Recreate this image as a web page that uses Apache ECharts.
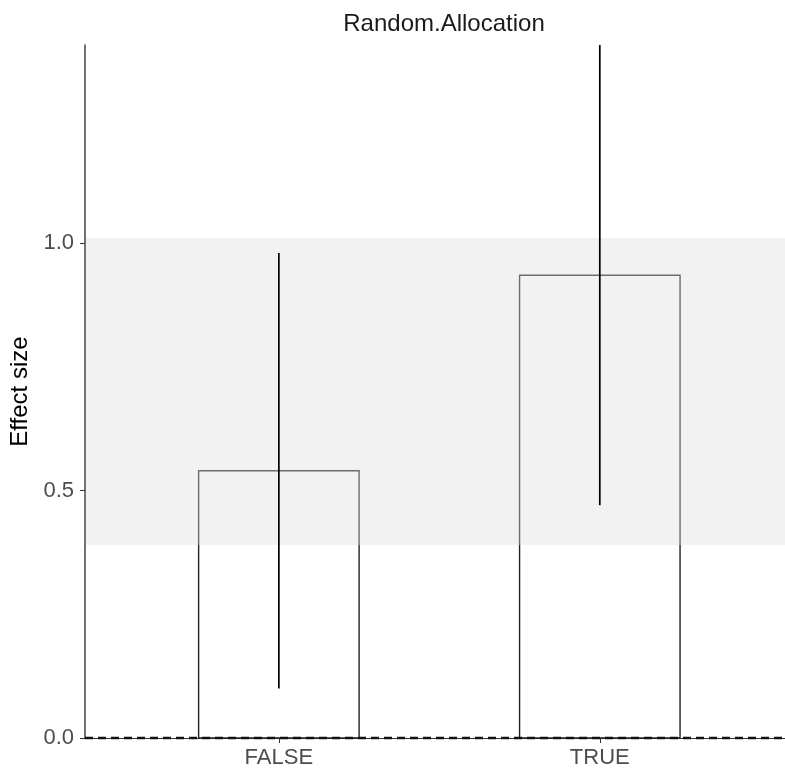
<!DOCTYPE html>
<html>
<head>
<meta charset="utf-8">
<script src="https://cdn.jsdelivr.net/npm/echarts@6/dist/echarts.min.js"></script>
<style>html,body{margin:0;padding:0;background:#fff}#c{width:785px;height:769px}</style>
</head>
<body>
<div id="c"></div>
<script>
var categories = ['FALSE', 'TRUE'];
var means = [0.54, 0.935];
var lower = [0.10, 0.47];
var upper = [0.98, 1.45];
var bandRange = [0.39, 1.01];
var yTicks = [0, 0.5, 1.0];
var yMax = 1.4;
var xMin = 0.396, xMax = 2.577;
var barHalfWidth = 0.25;

var chart = echarts.init(document.getElementById('c'), null, {renderer: 'canvas'});
var font = 'Liberation Sans, Arial, sans-serif';
var barData = categories.map(function (c, i) { return [i + 1, means[i]]; });
var errData = categories.map(function (c, i) { return [i + 1, lower[i], upper[i]]; });

var option = {
  backgroundColor: '#fff',
  animation: false,
  title: {
    text: 'Random.Allocation',
    left: 439, top: 7, textAlign: 'center',
    textStyle: {fontFamily: font, fontSize: 24, fontWeight: 'normal', color: '#1a1a1a'}
  },
  grid: {left: 85, top: 45, width: 700, height: 693},
  xAxis: {
    type: 'value', min: xMin, max: xMax,
    splitLine: {show: false},
    axisLine: {show: true, lineStyle: {color: '#333', width: 1.2}},
    axisTick: {show: true, customValues: [1, 2], length: 5, lineStyle: {color: '#333'}},
    axisLabel: {
      customValues: [1, 2], margin: 9,
      formatter: function (v) { return categories[Math.round(v) - 1]; },
      fontFamily: font, fontSize: 22, color: '#4d4d4d'
    }
  },
  yAxis: {
    type: 'value', min: 0, max: yMax,
    name: 'Effect size', nameLocation: 'middle', nameGap: 49,
    nameTextStyle: {fontFamily: font, fontSize: 24, color: '#000'},
    splitLine: {show: false},
    axisLine: {show: true, lineStyle: {color: '#444', width: 1.5}},
    axisTick: {show: true, customValues: yTicks, length: 5, lineStyle: {color: '#333'}},
    axisLabel: {
      customValues: yTicks, margin: 11,
      formatter: function (v) { return v.toFixed(1); },
      fontFamily: font, fontSize: 22, color: '#4d4d4d'
    }
  },
  series: [
    {
      type: 'custom', z: 2, data: barData,
      renderItem: function (params, api) {
        var x = api.value(0), y = api.value(1);
        var p0 = api.coord([x - barHalfWidth, 0]);
        var p1 = api.coord([x + barHalfWidth, y]);
        return {
          type: 'rect',
          shape: {x: p0[0], y: p1[1], width: p1[0] - p0[0], height: p0[1] - p1[1]},
          style: {fill: 'rgba(0,0,0,0)', stroke: '#222', lineWidth: 1.4}
        };
      }
    },
    {
      type: 'custom', z: 3, data: [[bandRange[0], bandRange[1]]],
      renderItem: function (params, api) {
        var a = api.coord([xMin, api.value(1)]);
        var b = api.coord([xMax, api.value(0)]);
        return {
          type: 'rect',
          shape: {x: a[0] + 1, y: a[1], width: b[0] - a[0], height: b[1] - a[1]},
          style: {fill: 'rgba(222,222,222,0.4)'}
        };
      }
    },
    {
      type: 'custom', z: 4, data: errData,
      renderItem: function (params, api) {
        var x = api.value(0);
        var lo = api.coord([x, api.value(1)]);
        var hi = api.coord([x, Math.min(api.value(2), yMax)]);
        return {
          type: 'line',
          shape: {x1: lo[0], y1: lo[1], x2: hi[0], y2: hi[1]},
          style: {stroke: '#000', lineWidth: 1.7}
        };
      }
    },
    {
      type: 'custom', z: 5, data: [[0]],
      renderItem: function (params, api) {
        var a = api.coord([xMin, api.value(0)]);
        var b = api.coord([xMax, api.value(0)]);
        return {
          type: 'line',
          shape: {x1: a[0], y1: a[1], x2: b[0], y2: b[1]},
          style: {stroke: '#111', lineWidth: 2.6, lineDash: [8, 5]}
        };
      }
    }
  ]
};
chart.setOption(option);
</script>
</body>
</html>
